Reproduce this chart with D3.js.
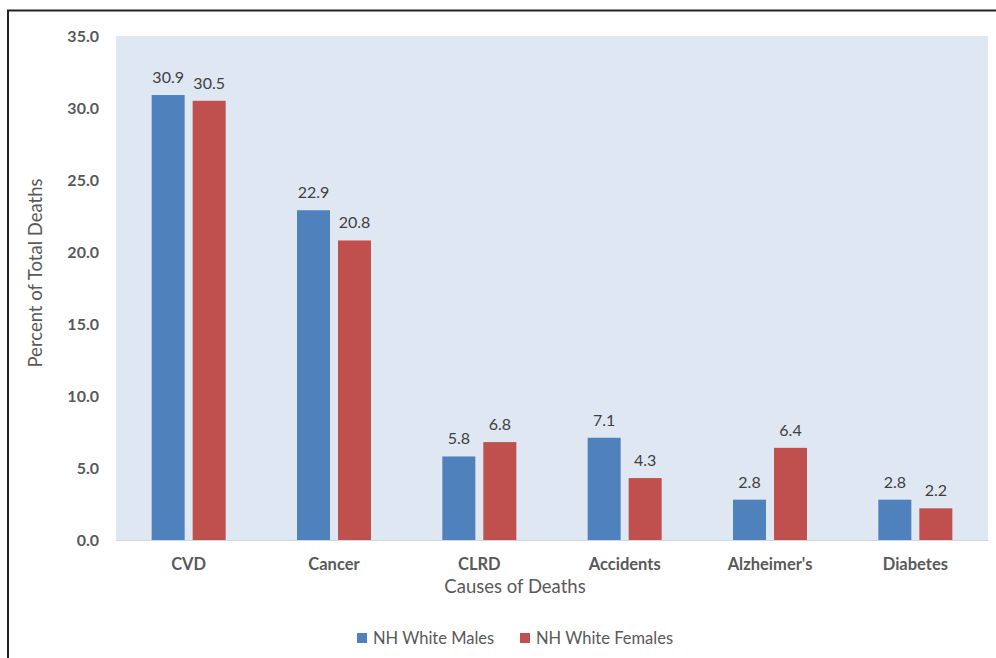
<!DOCTYPE html>
<html>
<head>
<meta charset="utf-8">
<script src="https://cdn.jsdelivr.net/npm/d3@7"></script>
<style>
  html, body { margin: 0; padding: 0; background: #fff; }
  svg { display: block; font-family: Lato, "Open Sans", sans-serif; }
</style>
</head>
<body>
<svg id="chart" width="996" height="658"></svg>
<script>
const categories = ["CVD", "Cancer", "CLRD", "Accidents", "Alzheimer's", "Diabetes"];
const seriesNames = ["NH White Males", "NH White Females"];
const males = [30.9, 22.9, 5.8, 7.1, 2.8, 2.8];
const females = [30.5, 20.8, 6.8, 4.3, 6.4, 2.2];
const yTicks = [0, 5, 10, 15, 20, 25, 30, 35];
const colors = ["#4f81bd", "#c0504d"];

const svg = d3.select("#chart");
const W = 996, H = 658;

// frame (left and top edges)
svg.append("path").attr("d", `M8,${H} L8,10.5 L${W},10.5`)
  .attr("fill", "none").attr("stroke", "#222").attr("stroke-width", 2);

const plot = {left: 116, right: 988, top: 36, bottom: 540};

const x = d3.scaleBand().domain(categories).range([plot.left, plot.right]).paddingInner(0).paddingOuter(0);
const xs = d3.scaleBand().domain(seriesNames).range([0, 74]).paddingInner(8 / 41);
const y = d3.scaleLinear().domain([0, 35]).range([plot.bottom, plot.top]);

svg.append("rect").attr("x", plot.left).attr("y", plot.top)
  .attr("width", plot.right - plot.left).attr("height", plot.bottom - plot.top)
  .attr("fill", "#dfe7f3");

const yAxis = d3.axisLeft(y).tickValues(yTicks).tickFormat(d3.format(".1f")).tickSize(0).tickPadding(17);
const gy = svg.append("g").attr("transform", `translate(${plot.left},0)`).call(yAxis);
gy.select(".domain").remove();
gy.selectAll("text").attr("fill", "#595959").attr("font-size", 16).attr("font-weight", 700)
  .attr("font-family", "Lato, sans-serif");

const xAxis = d3.axisBottom(x).tickSize(0).tickPadding(18);
const gx = svg.append("g").attr("transform", `translate(0,${plot.bottom})`).call(xAxis);
gx.select(".domain").attr("stroke", "#d0d8e4");
gx.selectAll("text").attr("fill", "#595959").attr("font-size", 16.5).attr("font-weight", 700)
  .attr("font-family", "Lato, sans-serif");

const data = categories.map((c, i) => ({cat: c, vals: [males[i], females[i]]}));
const groups = svg.append("g").selectAll("g").data(data).join("g")
  .attr("transform", d => `translate(${x(d.cat) + (x.bandwidth() - 74) / 2},0)`);

groups.selectAll("rect").data(d => d.vals.map((v, j) => ({name: seriesNames[j], v, j})))
  .join("rect")
  .attr("x", d => xs(d.name)).attr("width", xs.bandwidth())
  .attr("y", d => y(d.v)).attr("height", d => y(0) - y(d.v))
  .attr("fill", d => colors[d.j]);

groups.selectAll("text.lbl").data(d => d.vals.map((v, j) => ({name: seriesNames[j], v, j})))
  .join("text").attr("class", "lbl")
  .attr("x", d => xs(d.name) + xs.bandwidth() / 2)
  .attr("y", d => y(d.v) - 12)
  .attr("text-anchor", "middle").attr("font-size", 16).attr("fill", "#404040")
  .text(d => d3.format(".1f")(d.v));

// axis titles
svg.append("text").attr("x", 515).attr("y", 593).attr("text-anchor", "middle")
  .attr("font-size", 18.5).attr("fill", "#595959").text("Causes of Deaths");
svg.append("text").attr("transform", `translate(42,${(plot.top + plot.bottom) / 2 - 15}) rotate(-90)`)
  .attr("text-anchor", "middle").attr("font-size", 18.5).attr("fill", "#595959").text("Percent of Total Deaths");

// legend
const legendX = [357, 520];
const lg = svg.append("g").selectAll("g").data(seriesNames).join("g")
  .attr("transform", (d, i) => `translate(${legendX[i]},633)`);
lg.append("rect").attr("width", 10).attr("height", 10).attr("fill", (d, i) => colors[i]);
lg.append("text").attr("x", 16).attr("y", 10.5).attr("font-size", 16.5).attr("fill", "#595959").text(d => d);
</script>
</body>
</html>
